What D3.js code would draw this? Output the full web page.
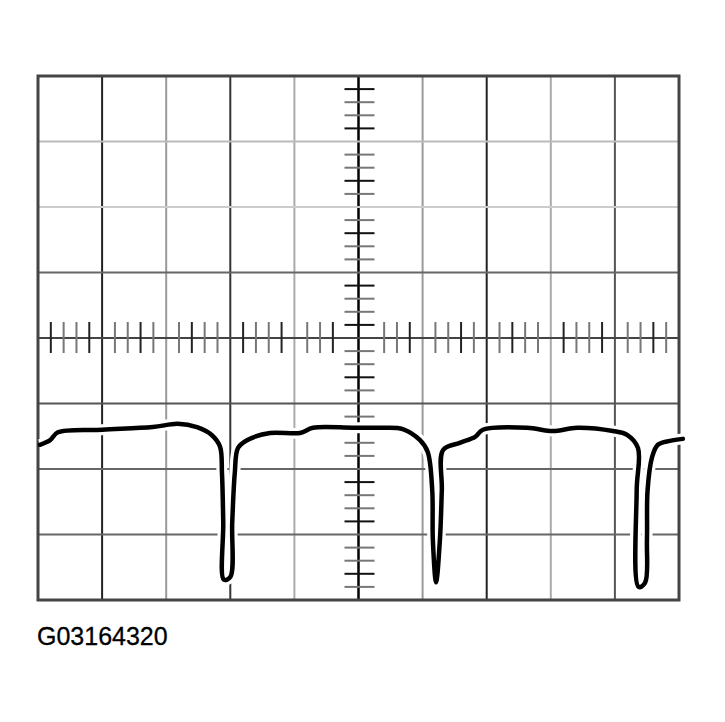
<!DOCTYPE html>
<html>
<head>
<meta charset="utf-8">
<script src="https://cdn.jsdelivr.net/npm/d3@7"></script>
<style>
  body { margin: 0; background: #fff; }
  svg { display: block; }
</style>
</head>
<body>
<svg width="725" height="722"></svg>
<script>
// screen divisions (10 across, 8 down)
const divX = [0, 1, 2, 3, 4, 5, 6, 7, 8, 9, 10];
const divY = [-4, -3, -2, -1, 0, 1, 2, 3, 4];

// trace: time (div) and level (div)
const traceTime = [0.03, 0.19, 0.31, 1.00, 1.79, 2.18, 2.48, 2.71, 2.84, 2.87, 2.89, 2.90,
  3.00, 3.03, 3.07, 3.12, 3.26, 3.62, 4.09, 4.29, 4.91, 5.34, 5.69, 5.96, 6.08, 6.15,
  6.16, 6.21, 6.27, 6.30, 6.32, 6.58, 6.82, 6.94, 7.63, 8.03, 8.41, 8.97, 9.19, 9.36,
  9.34, 9.37, 9.47, 9.50, 9.51, 9.58, 9.67, 9.86, 10.06];
const traceLevel = [-1.63, -1.56, -1.44, -1.40, -1.36, -1.31, -1.36, -1.48, -1.66, -2.06, -2.82, -3.69,
  -3.65, -2.82, -2.06, -1.68, -1.56, -1.45, -1.45, -1.37, -1.37, -1.37, -1.39, -1.56, -1.74, -2.32,
  -3.08, -3.73, -3.08, -2.32, -1.71, -1.60, -1.51, -1.40, -1.37, -1.42, -1.37, -1.42, -1.48, -1.68,
  -2.32, -3.80, -3.74, -3.08, -2.32, -1.82, -1.63, -1.57, -1.54];

const label = 'G03164320';

const svg = d3.select('svg');
const x = d3.scaleLinear().domain([0, 10]).range([38, 679]);
const y = d3.scaleLinear().domain([-4, 4]).range([600, 76]);

// the graticule lines are printed in uneven shades
const vShade = ['#444', '#222', '#999', '#333', '#aaa', '#000', '#999', '#222', '#aaa', '#555', '#444'];
const hShade = ['#444', '#666', '#666', '#555', '#444', '#666', '#ccc', '#bbb', '#444'];

svg.append('g')
  .selectAll('line')
  .data(divX.slice(1, -1))
  .enter()
  .append('line')
  .attr('x1', d => x(d)).attr('x2', d => x(d))
  .attr('y1', y(4)).attr('y2', y(-4))
  .attr('stroke', d => vShade[d])
  .attr('stroke-width', d => d === 5 ? 2.5 : 2);

svg.append('g')
  .selectAll('line')
  .data(divY.slice(1, -1))
  .enter()
  .append('line')
  .attr('x1', x(0)).attr('x2', x(10))
  .attr('y1', d => y(d)).attr('y2', d => y(d))
  .attr('stroke', d => hShade[d + 4])
  .attr('stroke-width', 2);

// minor ticks on the centre axes, 5 per division
const minorX = d3.range(0, 10.001, 0.2).filter(v => Math.abs(v - Math.round(v)) > 0.01 && Math.abs(v - 5) > 0.3);
const minorY = d3.range(-4, 4.001, 0.2).filter(v => Math.abs(v - Math.round(v)) > 0.01);

svg.append('g')
  .selectAll('line')
  .data(minorX)
  .enter()
  .append('line')
  .attr('x1', d => x(d)).attr('x2', d => x(d))
  .attr('y1', y(0) - 16).attr('y2', y(0) + 15)
  .attr('stroke', (d, i) => i % 3 === 0 ? '#222' : '#777')
  .attr('stroke-width', 2);

svg.append('g')
  .selectAll('line')
  .data(minorY)
  .enter()
  .append('line')
  .attr('x1', x(5) - 14).attr('x2', x(5) + 16)
  .attr('y1', d => y(d)).attr('y2', d => y(d))
  .attr('stroke', (d, i) => i % 3 === 1 ? '#111' : '#777')
  .attr('stroke-width', 2);

// border
svg.append('rect')
  .attr('x', x(0)).attr('y', y(4))
  .attr('width', x(10) - x(0)).attr('height', y(-4) - y(4))
  .attr('fill', 'none')
  .attr('stroke', '#444')
  .attr('stroke-width', 3);

// trace
const pts = traceTime.map((t, i) => [t, traceLevel[i]]);
const line = d3.line()
  .x(d => x(d[0]))
  .y(d => y(d[1]))
  .curve(d3.curveCatmullRom.alpha(0.5));

svg.append('path')
  .attr('d', line(pts))
  .attr('fill', 'none')
  .attr('stroke', '#fff')
  .attr('stroke-width', 11)
  .attr('stroke-linejoin', 'round');

svg.append('path')
  .attr('d', line(pts))
  .attr('fill', 'none')
  .attr('stroke', '#000')
  .attr('stroke-width', 4.5)
  .attr('stroke-linejoin', 'round')
  .attr('stroke-linecap', 'round');

svg.append('text')
  .attr('x', 37)
  .attr('y', 645)
  .attr('font-family', '"Liberation Sans", Arial, sans-serif')
  .attr('font-size', 25)
  .attr('fill', '#000')
  .attr('stroke', '#000')
  .attr('stroke-width', 0.3)
  .text(label);
</script>
</body>
</html>
